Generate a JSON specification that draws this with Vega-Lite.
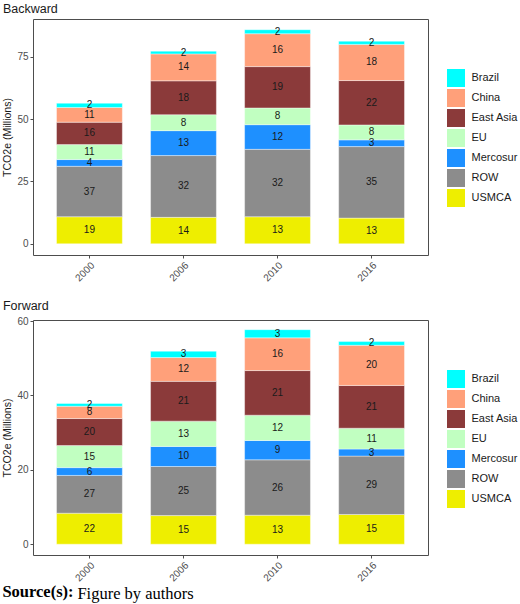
{
  "$schema": "https://vega.github.io/schema/vega-lite/v6.json",
  "background": "white",
  "padding": {"left": 2, "top": 2, "right": 0, "bottom": 0},
  "config": {
    "font": "Liberation Sans",
    "view": {"stroke": "#4d4d4d", "strokeWidth": 1},
    "axis": {
      "grid": false,
      "domain": false,
      "tickColor": "#4d4d4d",
      "tickSize": 3,
      "labelColor": "#4d4d4d",
      "labelFontSize": 10,
      "labelPadding": 2,
      "titleFontSize": 10.5,
      "titleFontWeight": "normal",
      "titleColor": "#1a1a1a"
    },
    "legend": {
      "orient": "none",
      "legendX": 414,
      "legendY": 50,
      "padding": 0,
      "symbolType": "square",
      "symbolSize": 324,
      "symbolStrokeWidth": 0,
      "symbolOpacity": 1,
      "rowPadding": 2,
      "labelOffset": 6.5,
      "labelFontSize": 11,
      "labelColor": "#1a1a1a"
    },
    "title": {"fontSize": 12.5, "fontWeight": "normal", "anchor": "start", "color": "#1a1a1a", "offset": 4}
  },
  "datasets": {
    "backward": [
      {"year": "2000", "region": "USMCA", "value": 10.85, "pct": 19},
      {"year": "2000", "region": "ROW", "value": 20.25, "pct": 37},
      {"year": "2000", "region": "Mercosur", "value": 2.7, "pct": 4},
      {"year": "2000", "region": "EU", "value": 6.0, "pct": 11},
      {"year": "2000", "region": "East Asia", "value": 9.0, "pct": 16},
      {"year": "2000", "region": "China", "value": 5.9, "pct": 11},
      {"year": "2000", "region": "Brazil", "value": 1.7, "pct": 2},
      {"year": "2006", "region": "USMCA", "value": 10.6, "pct": 14},
      {"year": "2006", "region": "ROW", "value": 24.8, "pct": 32},
      {"year": "2006", "region": "Mercosur", "value": 10.0, "pct": 13},
      {"year": "2006", "region": "EU", "value": 6.4, "pct": 8},
      {"year": "2006", "region": "East Asia", "value": 13.6, "pct": 18},
      {"year": "2006", "region": "China", "value": 10.8, "pct": 14},
      {"year": "2006", "region": "Brazil", "value": 1.1, "pct": 2},
      {"year": "2010", "region": "USMCA", "value": 10.85, "pct": 13},
      {"year": "2010", "region": "ROW", "value": 27.05, "pct": 32},
      {"year": "2010", "region": "Mercosur", "value": 9.9, "pct": 12},
      {"year": "2010", "region": "EU", "value": 6.7, "pct": 8},
      {"year": "2010", "region": "East Asia", "value": 16.6, "pct": 19},
      {"year": "2010", "region": "China", "value": 13.2, "pct": 16},
      {"year": "2010", "region": "Brazil", "value": 1.6, "pct": 2},
      {"year": "2016", "region": "USMCA", "value": 10.3, "pct": 13},
      {"year": "2016", "region": "ROW", "value": 28.7, "pct": 35},
      {"year": "2016", "region": "Mercosur", "value": 2.7, "pct": 3},
      {"year": "2016", "region": "EU", "value": 6.0, "pct": 8},
      {"year": "2016", "region": "East Asia", "value": 17.8, "pct": 22},
      {"year": "2016", "region": "China", "value": 14.5, "pct": 18},
      {"year": "2016", "region": "Brazil", "value": 1.3, "pct": 2}
    ],
    "forward": [
      {"year": "2000", "region": "USMCA", "value": 8.34, "pct": 22},
      {"year": "2000", "region": "ROW", "value": 10.16, "pct": 27},
      {"year": "2000", "region": "Mercosur", "value": 2.1, "pct": 6},
      {"year": "2000", "region": "EU", "value": 5.95, "pct": 15},
      {"year": "2000", "region": "East Asia", "value": 7.25, "pct": 20},
      {"year": "2000", "region": "China", "value": 3.3, "pct": 8},
      {"year": "2000", "region": "Brazil", "value": 0.75, "pct": 2},
      {"year": "2006", "region": "USMCA", "value": 7.7, "pct": 15},
      {"year": "2006", "region": "ROW", "value": 13.2, "pct": 25},
      {"year": "2006", "region": "Mercosur", "value": 5.4, "pct": 10},
      {"year": "2006", "region": "EU", "value": 6.8, "pct": 13},
      {"year": "2006", "region": "East Asia", "value": 10.7, "pct": 21},
      {"year": "2006", "region": "China", "value": 6.4, "pct": 12},
      {"year": "2006", "region": "Brazil", "value": 1.7, "pct": 3},
      {"year": "2010", "region": "USMCA", "value": 7.8, "pct": 13},
      {"year": "2010", "region": "ROW", "value": 14.9, "pct": 26},
      {"year": "2010", "region": "Mercosur", "value": 5.2, "pct": 9},
      {"year": "2010", "region": "EU", "value": 6.8, "pct": 12},
      {"year": "2010", "region": "East Asia", "value": 12.0, "pct": 21},
      {"year": "2010", "region": "China", "value": 8.8, "pct": 16},
      {"year": "2010", "region": "Brazil", "value": 2.2, "pct": 3},
      {"year": "2016", "region": "USMCA", "value": 8.0, "pct": 15},
      {"year": "2016", "region": "ROW", "value": 15.7, "pct": 29},
      {"year": "2016", "region": "Mercosur", "value": 1.9, "pct": 3},
      {"year": "2016", "region": "EU", "value": 5.6, "pct": 11},
      {"year": "2016", "region": "East Asia", "value": 11.5, "pct": 21},
      {"year": "2016", "region": "China", "value": 10.8, "pct": 20},
      {"year": "2016", "region": "Brazil", "value": 1.0, "pct": 2}
    ]
  },
  "title": {
    "text": "Source(s):",
    "orient": "bottom",
    "anchor": "start",
    "frame": "bounds",
    "font": "Liberation Serif",
    "fontWeight": "bold",
    "fontSize": 16.5,
    "color": "black",
    "offset": -19
  },
  "vconcat": [
    {
      "title": {
        "text": "Figure by authors",
        "orient": "bottom",
        "anchor": "start",
        "frame": "bounds",
        "font": "Liberation Serif",
        "fontWeight": "normal",
        "fontSize": 16.5,
        "color": "black",
        "dx": 75,
        "offset": 3
      },
      "spacing": 15,
      "resolve": {"scale": {"color": "independent"}, "legend": {"color": "independent"}},
      "vconcat": [
        {
          "title": {"text": "Backward"},
          "width": 395,
          "height": 236,
          "data": {"name": "backward"},
          "transform": [
            {"window": [{"op": "row_number", "as": "stack_rank"}], "groupby": ["year"]}
          ],
          "encoding": {
            "x": {
              "field": "year",
              "type": "ordinal",
              "scale": {"paddingInner": 0.3, "paddingOuter": 0.25},
              "axis": {"title": null, "labelAngle": -45, "labelAlign": "right", "labelBaseline": "top"}
            },
            "order": {"field": "stack_rank", "sort": "ascending"}
          },
          "layer": [
            {
              "mark": {"type": "bar", "stroke": "white", "strokeWidth": 0.4},
              "encoding": {
                "y": {
                  "field": "value",
                  "type": "quantitative",
                  "stack": "zero",
                  "scale": {"domain": [-4.5, 90.2], "nice": false, "zero": false},
                  "axis": {"title": "TCO2e (Millions)", "values": [0, 25, 50, 75]}
                },
                "color": {
                  "field": "region",
                  "type": "nominal",
                  "title": null,
                  "scale": {
                    "domain": ["Brazil", "China", "East Asia", "EU", "Mercosur", "ROW", "USMCA"],
                    "range": ["#00FFFF", "#FFA07A", "#8B3A3A", "#C1FFC1", "#1E90FF", "#8C8C8C", "#EEEE00"]
                  }
                }
              }
            },
            {
              "mark": {"type": "text", "fontSize": 10, "color": "#1a1a1a", "baseline": "middle"},
              "encoding": {
                "y": {
                  "field": "value",
                  "type": "quantitative",
                  "stack": "zero",
                  "bandPosition": 0.5,
                  "scale": {"domain": [-4.5, 90.2], "nice": false, "zero": false}
                },
                "detail": {"field": "region"},
                "text": {"field": "pct", "type": "quantitative"}
              }
            }
          ]
        },
        {
          "title": {"text": "Forward"},
          "width": 395,
          "height": 235,
          "data": {"name": "forward"},
          "transform": [
            {"window": [{"op": "row_number", "as": "stack_rank"}], "groupby": ["year"]}
          ],
          "encoding": {
            "x": {
              "field": "year",
              "type": "ordinal",
              "scale": {"paddingInner": 0.3, "paddingOuter": 0.25},
              "axis": {"title": null, "labelAngle": -45, "labelAlign": "right", "labelBaseline": "top"}
            },
            "order": {"field": "stack_rank", "sort": "ascending"}
          },
          "layer": [
            {
              "mark": {"type": "bar", "stroke": "white", "strokeWidth": 0.4},
              "encoding": {
                "y": {
                  "field": "value",
                  "type": "quantitative",
                  "stack": "zero",
                  "scale": {"domain": [-2.9, 60.3], "nice": false, "zero": false},
                  "axis": {"title": "TCO2e (Millions)", "values": [0, 20, 40, 60]}
                },
                "color": {
                  "field": "region",
                  "type": "nominal",
                  "title": null,
                  "scale": {
                    "domain": ["Brazil", "China", "East Asia", "EU", "Mercosur", "ROW", "USMCA"],
                    "range": ["#00FFFF", "#FFA07A", "#8B3A3A", "#C1FFC1", "#1E90FF", "#8C8C8C", "#EEEE00"]
                  }
                }
              }
            },
            {
              "mark": {"type": "text", "fontSize": 10, "color": "#1a1a1a", "baseline": "middle"},
              "encoding": {
                "y": {
                  "field": "value",
                  "type": "quantitative",
                  "stack": "zero",
                  "bandPosition": 0.5,
                  "scale": {"domain": [-2.9, 60.3], "nice": false, "zero": false}
                },
                "detail": {"field": "region"},
                "text": {"field": "pct", "type": "quantitative"}
              }
            }
          ]
        }
      ]
    }
  ]
}
